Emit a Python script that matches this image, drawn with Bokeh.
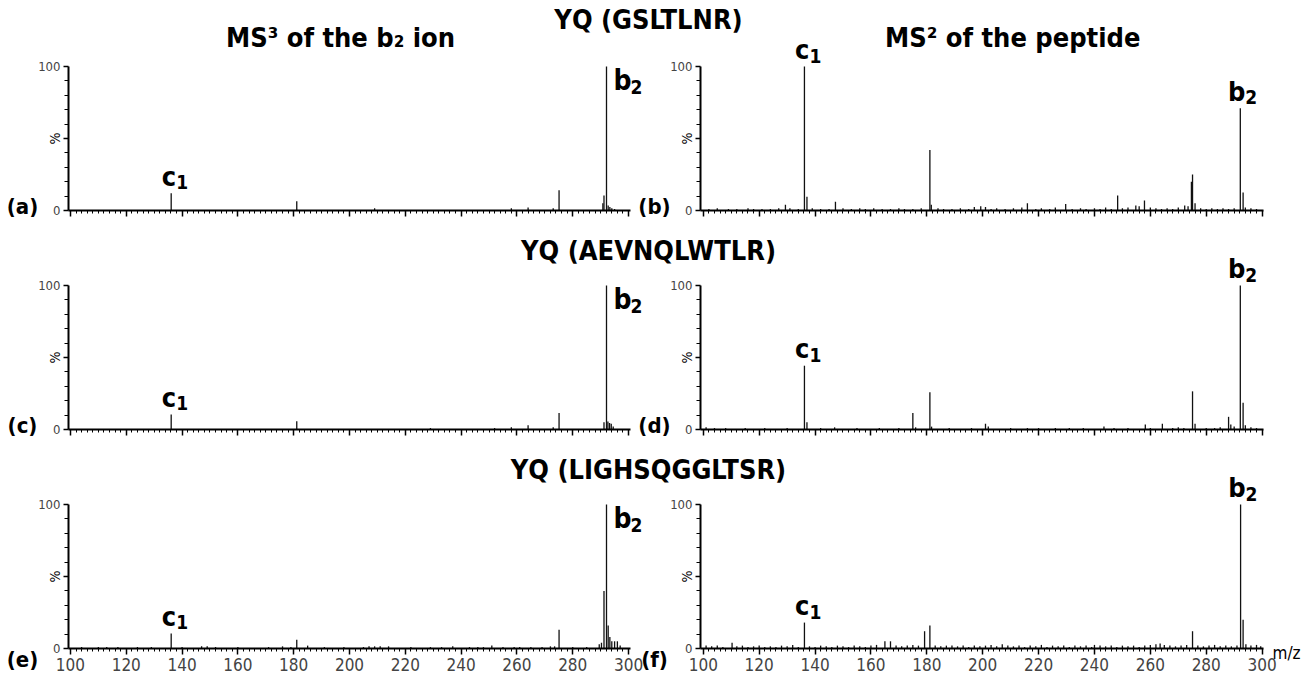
from bokeh.plotting import figure
from bokeh.models import Range1d, LinearAxis, FixedTicker, Label
from bokeh.layouts import column
from bokeh.embed import file_html
from bokeh.resources import INLINE

# ---------------- data ----------------
ROW_TITLES = ["YQ (GSLTLNR)", "YQ (AEVNQLWTLR)", "YQ (LIGHSQGGLTSR)"]
LEFT_TITLE = "MS³ of the b₂ ion"
RIGHT_TITLE = "MS² of the peptide"
PANEL_TAGS = [["(a)", "(b)"], ["(c)", "(d)"], ["(e)", "(f)"]]
X_TICKS = [100, 120, 140, 160, 180, 200, 220, 240, 260, 280, 300]
X_TICK_LABELS = ["100", "120", "140", "160", "180", "200", "220", "240", "260", "280", "300"]
X_MINOR = list(range(100, 301, 2))
Y_TICKS = [0, 50, 100]
Y_TICK_LABELS = ["0", "", "100"]
Y_MINOR = [10, 20, 30, 40, 60, 70, 80, 90]
Y_NAME = "%"
X_NAME = "m/z"

# (a) MS3 of b2 ion, YQ (GSLTLNR)
MZ_A = [136.1, 181.1, 209.0, 258.0, 264.0, 273.0, 275.1, 290.8, 291.2, 292.1, 292.7, 293.3, 294.0, 295.0]
INT_A = [12.0, 6.5, 1.5, 1.5, 2.0, 1.5, 14.0, 5.0, 10.5, 100.0, 3.5, 2.5, 1.5, 1.0]
# (b) MS2 of peptide, YQ (GSLTLNR)
MZ_B = [102, 105, 109, 112, 116, 118, 121, 124, 127, 129.4, 131, 134, 136.2, 137.1, 139, 142, 145, 147.3,
        150, 153, 156, 158, 161, 164, 167, 170, 172, 175, 178, 181.1, 181.6, 184, 186, 189, 192, 195, 197,
        199.3, 201, 203, 205, 208, 211, 214, 216, 219, 221, 224, 226, 229.7, 232, 235, 237, 240, 242, 244,
        246, 248.3, 250, 252, 254.8, 256, 257.9, 260, 262, 264, 266, 268, 270, 272.3, 273.5, 274.7, 275.1,
        276, 278, 280, 282, 284, 286, 288, 290, 292.2, 293.2, 294, 296, 298]
INT_B = [1, 1.5, 1, 1, 1.5, 1, 1, 1, 1.5, 4, 1.5, 1, 100, 9.5, 1.5, 1, 1, 6,
         1.5, 1, 1.5, 1, 1.5, 1, 1, 1.5, 1, 1, 1.5, 42, 4, 1.5, 1, 1, 1.5, 1, 2.5,
         3, 2.5, 1, 1.5, 1, 1.5, 2, 5, 1, 1.5, 1, 2, 4.5, 1, 1.5, 1, 1.5, 1, 2,
         1, 10.5, 1.5, 2, 3.5, 3, 7, 2, 1.5, 1, 1.5, 1, 2, 3.5, 3, 20, 25,
         5, 1.5, 1, 1.5, 1, 1.5, 1, 1.5, 71, 12.5, 2, 1.5, 1]
# (c) MS3 of b2 ion, YQ (AEVNQLWTLR)
MZ_C = [136.1, 181.1, 229.0, 252.0, 258.0, 264.0, 273.0, 275.1, 291.2, 292.1, 292.6, 293.2, 293.8, 294.5]
INT_C = [10.5, 5.8, 1.0, 1.0, 1.5, 3.0, 1.5, 11.5, 5.0, 100.0, 5.5, 4.5, 4.0, 2.0]
# (d) MS2 of peptide, YQ (AEVNQLWTLR)
MZ_D = [101, 104, 108, 115, 122, 130, 136.2, 137.1, 142, 147, 155, 163, 170, 175.0, 176, 181.1, 181.7,
        188, 196, 201, 202, 210, 216, 220, 226, 231, 236, 243.4, 247, 252, 258.2, 260, 264.3, 268, 270,
        272, 275.1, 276, 280, 283, 285, 288, 288.8, 290, 292.2, 293.2, 294, 296, 298]
INT_D = [1.5, 1, 1, 1, 1, 1, 44.3, 5, 1, 1.5, 1, 1, 1, 11.4, 1.5, 25.8, 2,
         1, 1, 4, 2, 1, 1, 1, 1, 1, 1, 2, 1, 1, 3.5, 1, 4, 1, 1.5,
         1, 26.5, 4, 1, 1, 1.5, 8.8, 3.5, 2, 100, 18.6, 3, 1.5, 1]
# (e) MS3 of b2 ion, YQ (LIGHSQGGLTSR)
MZ_E = [104, 110, 113, 117, 124, 129, 136.1, 140, 147, 149, 152, 160, 171, 176, 179, 181.1, 185, 191,
        198, 205, 207, 209, 211, 214, 222, 229, 233, 237, 243, 246, 248, 251, 255, 259, 261, 265, 269,
        272, 273.5, 275.1, 280, 285, 289.5, 290.3, 291.2, 292.1, 292.7, 293.3, 294, 295, 296, 297]
INT_E = [1, 1, 1, 1, 1, 1, 10.5, 1, 1.5, 1.5, 1, 1, 1, 1.5, 1, 6, 2, 1,
         1, 1, 1.5, 1.5, 1.5, 1.5, 1, 1, 1, 1.5, 1, 1, 1, 2, 1, 1, 1, 1, 1,
         1.5, 1.5, 13, 1, 1, 3, 4, 40, 100, 16, 8, 5, 5, 5, 2]
# (f) MS2 of peptide, YQ (LIGHSQGGLTSR)
MZ_F = [101, 103, 105, 107, 110.3, 112, 114, 116, 118, 120, 122, 124, 126, 128, 130, 132, 134, 136.2,
        138, 140, 142, 144, 146, 148, 150, 152, 154, 156, 158, 160, 162, 165, 167, 169, 171, 173, 175,
        177, 179.2, 181.1, 183, 185, 187, 189, 191, 193, 195, 197, 199, 201, 203, 205, 207, 209, 211,
        213, 215, 217, 219, 221, 223, 225, 227, 229, 231, 233, 235, 237, 239, 240, 242, 244, 246, 248,
        250, 252, 254, 256, 258, 260, 262, 263.5, 265, 267, 269, 271, 273, 275.1, 277, 279, 281, 283,
        285, 287, 289, 291, 292.3, 293.2, 294.2, 296, 298, 299.5]
INT_F = [2, 1.5, 2, 1, 4, 1.5, 2, 1, 1.5, 2, 1, 1.5, 1, 2, 1.5, 2.5, 1, 18,
         1.5, 1, 2, 1.5, 1, 2, 1.5, 1, 2, 1.5, 1, 2, 2.5, 5, 5, 2, 1.5, 2, 2.5,
         2, 12, 16, 2, 1.5, 2, 2, 1.5, 2, 1, 2, 1.5, 2, 2.5, 1.5, 3, 2, 1.5,
         2, 1, 2, 1.5, 2.5, 1, 2, 1.5, 2, 1, 2, 1.5, 2, 1, 2.5, 2, 1.5, 2, 1,
         2, 1.5, 2, 1, 2, 2.5, 3, 3.5, 2.5, 2, 1.5, 2, 2.5, 12, 2, 1.5, 2, 2.5,
         1.5, 2, 1.5, 2, 100, 20, 3, 2, 2.5, 1.5]

SPECTRA = [[(MZ_A, INT_A), (MZ_B, INT_B)],
           [(MZ_C, INT_C), (MZ_D, INT_D)],
           [(MZ_E, INT_E), (MZ_F, INT_F)]]

# peak annotations: (ion letter, index, m/z, intensity, placement)
ANNOT = [[[("c", "1", 136.1, 12.0, "above"), ("b", "2", 292.1, 100.0, "side")],
          [("c", "1", 136.2, 100.0, "above"), ("b", "2", 292.2, 71.0, "above")]],
         [[("c", "1", 136.1, 10.5, "above"), ("b", "2", 292.1, 100.0, "side")],
          [("c", "1", 136.2, 44.3, "above"), ("b", "2", 292.2, 100.0, "above")]],
         [[("c", "1", 136.1, 10.5, "above"), ("b", "2", 292.1, 100.0, "side")],
          [("c", "1", 136.2, 18.0, "above"), ("b", "2", 292.3, 100.0, "above")]]]

# ---------------- layout / style ----------------
W = 1309
L_LO, L_HI, L_PX0, L_PX1 = 99.3, 300.7, 68, 630      # left panel axis extent (m/z) and pixels
R_LO, R_HI, R_PX0, R_PX1 = 99.0, 300.5, 700, 1263    # right panel
S_L = (L_PX1 - L_PX0) / (L_HI - L_LO)
S_R = (R_PX1 - R_PX0) / (R_HI - R_LO)
# per row: canvas height, pixel of 100 % and of 0 % (from top), title lift above the 100 % line
ROWS = [dict(h=230, y100=66, y0=210, title_dy=47),
        dict(h=219, y100=55, y0=199, title_dy=35),
        dict(h=228, y100=55, y0=199, title_dy=35)]

BOLD = "DejaVu Sans Condensed"
REG = "DejaVu Sans Condensed"
INK = "#111111"


def lab(p, rng, x, y, text, size, dx=0, dy=0, align="center", base="alphabetic", bold=True, angle=0.0):
    p.add_layout(Label(x=x, y=y, x_range_name=rng, text=text, x_offset=dx, y_offset=dy,
                       text_align=align, text_baseline=base, angle=angle,
                       text_font=BOLD if bold else REG, text_font_size=size,
                       text_font_style="bold" if bold else "normal", text_color="black"))


def style_axis(ax):
    ax.axis_line_width = 2
    ax.axis_line_color = "black"
    ax.major_tick_line_width = 1.5
    ax.minor_tick_line_width = 1
    ax.major_tick_line_color = "black"
    ax.minor_tick_line_color = "black"
    ax.major_tick_in = 0
    ax.minor_tick_in = 0


def make_row(r):
    cfg = ROWS[r]
    last = r == len(ROWS) - 1
    sy = (cfg["y0"] - cfg["y100"]) / 100.0
    y_start = -(cfg["h"] - cfg["y0"]) / sy
    y_end = 100 + cfg["y100"] / sy
    lx0 = L_LO - L_PX0 / S_L
    rx1 = R_HI + (W - R_PX1) / S_R
    p = figure(width=W, height=cfg["h"], output_backend="svg", toolbar_location=None,
               x_range=Range1d(lx0, lx0 + W / S_L), y_range=Range1d(y_start, y_end),
               x_axis_type=None, y_axis_type=None, title=None,
               min_border_left=0, min_border_right=0, min_border_top=0, min_border_bottom=0)
    p.extra_x_ranges = {"R": Range1d(rx1 - W / S_R, rx1)}
    p.outline_line_color = None
    p.xgrid.visible = False
    p.ygrid.visible = False
    p.background_fill_color = "white"
    p.border_fill_color = "white"

    for side, (rng, lo, hi) in enumerate([("default", L_LO, L_HI), ("R", R_LO, R_HI)]):
        mz, inten = SPECTRA[r][side]
        p.segment(x0=mz, y0=[0] * len(mz), x1=mz, y1=inten, x_range_name=rng,
                  line_color=INK, line_width=1.3)

        xa = LinearAxis(x_range_name=rng, bounds=(lo, hi), fixed_location=0,
                        ticker=FixedTicker(ticks=X_TICKS, minor_ticks=X_MINOR))
        style_axis(xa)
        xa.major_tick_out = 6
        xa.minor_tick_out = 3
        if last:
            xa.major_label_overrides = {t: s for t, s in zip(X_TICKS, X_TICK_LABELS)}
        else:
            xa.major_label_overrides = {t: "" for t in X_TICKS}
        xa.major_label_text_font = REG
        xa.major_label_text_font_size = "17px"
        xa.major_label_standoff = 3
        p.add_layout(xa, "below")

        ya = LinearAxis(x_range_name=rng, fixed_location=lo, bounds=(0, 100),
                        ticker=FixedTicker(ticks=Y_TICKS, minor_ticks=Y_MINOR))
        style_axis(ya)
        ya.major_tick_out = 5
        ya.minor_tick_out = 4
        ya.major_label_overrides = {t: s for t, s in zip(Y_TICKS, Y_TICK_LABELS)}
        ya.major_label_text_font = REG
        ya.major_label_text_font_size = "13px"
        ya.major_label_standoff = 3
        p.add_layout(ya, "left")

        lab(p, rng, lo, 50, Y_NAME, "14px", dx=-14, align="center", base="middle", bold=False,
            angle=1.5708)
        lab(p, rng, lo, 0, PANEL_TAGS[r][side], "22px", dx=-46, dy=(-11 if last else 4),
            align="center", base="middle")

        for ion, idx, mzp, ip, where in ANNOT[r][side]:
            if where == "above":
                lab(p, rng, mzp, ip, ion, "27px", dx=5, dy=17, align="right")
                lab(p, rng, mzp, ip, idx, "19px", dx=5, dy=11, align="left")
            else:
                lab(p, rng, mzp, 100, ion, "28px", dx=7, dy=-14, align="left")
                lab(p, rng, mzp, 100, idx, "19px", dx=24, dy=-20, align="left")

    if last:
        lab(p, "R", R_HI, 0, X_NAME, "17px", dx=9, dy=-4, align="left", base="middle", bold=False)

    lab(p, "default", L_HI, 100, ROW_TITLES[r], "27px", dx=18, dy=cfg["title_dy"])
    if r == 0:
        lab(p, "default", 200, 100, LEFT_TITLE, "27px", dx=-9, dy=29)
        lab(p, "R", 200, 100, RIGHT_TITLE, "27px", dx=30, dy=29)
    return p


layout = column(*[make_row(r) for r in range(len(ROWS))], spacing=0)
open("out.html", "w").write(file_html(layout, INLINE))
